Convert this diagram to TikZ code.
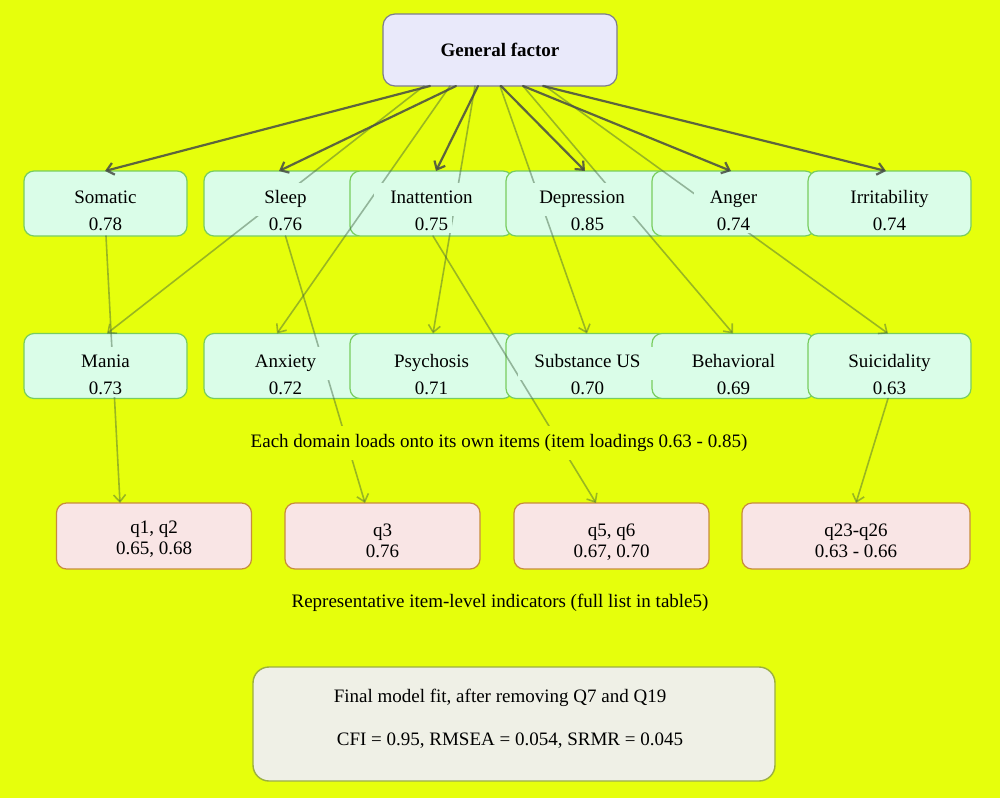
\documentclass[tikz,border=0pt]{standalone}
\usepackage{fontspec}
\setmainfont{Liberation Serif}
\usetikzlibrary{arrows.meta}
\definecolor{bg}{RGB}{230,255,12}
\definecolor{domfill}{RGB}{218,253,232}
\definecolor{domdraw}{RGB}{120,205,95}
\definecolor{genfill}{RGB}{233,233,250}
\definecolor{gendraw}{RGB}{125,125,140}
\definecolor{qfill}{RGB}{249,229,229}
\definecolor{qdraw}{RGB}{200,140,60}
\definecolor{fitfill}{RGB}{239,240,230}
\definecolor{fitdraw}{RGB}{155,175,65}
\definecolor{darkedge}{RGB}{70,75,70}
\definecolor{lightedge}{RGB}{60,95,60}
\begin{document}
\begin{tikzpicture}[x=1pt,y=-1pt,font=\fontsize{19}{22}\selectfont,
  box/.style={draw,rounded corners=10pt,inner sep=0pt,outer sep=0pt},
  dom/.style={box,fill=domfill,draw=domdraw,line width=1.2pt,minimum width=163pt,minimum height=65pt},
  qbox/.style={box,fill=qfill,draw=qdraw,line width=1.2pt,minimum width=195pt,minimum height=66pt},
  nm/.style={fill=domfill,inner xsep=16pt,inner ysep=8pt,text height=13pt,text depth=4pt},
  vl/.style={fill=domfill,inner xsep=4pt,inner ysep=2pt,text height=13pt,text depth=1pt},
  qt/.style={inner sep=0pt,text height=13pt,text depth=4pt},
  main/.style={draw=darkedge,opacity=0.85,line width=2.2pt,line cap=round,-{Straight Barb[length=7pt,width=12pt]}},
  sub/.style={draw=lightedge,opacity=0.45,line width=1.6pt,line cap=round,-{Straight Barb[length=7pt,width=12pt]}}]
\useasboundingbox (0,0) rectangle (1000,798);
\fill[bg] (0,0) rectangle (1000,798);
% domain boxes, row 1
\node[dom] (som) at (105.5,203.5) {};
\node[dom] (slp) at (285.5,203.5) {};
\node[dom] (ina) at (431.5,203.5) {};
\node[dom] (dep) at (587.5,203.5) {};
\node[dom] (ang) at (733.5,203.5) {};
\node[dom] (irr) at (889.5,203.5) {};
% row 2
\node[dom] (man) at (105.5,366) {};
\node[dom] (anx) at (285.5,366) {};
\node[dom] (psy) at (431.5,366) {};
\node[dom] (sub) at (587.5,366) {};
\node[dom] (beh) at (733.5,366) {};
\node[dom] (sui) at (889.5,366) {};
% item boxes
\node[qbox] (q12) at (154,536) {};
\node[qbox] (q3) at (382.5,536) {};
\node[qbox] (q56) at (611.5,536) {};
\node[qbox,minimum width=228pt] (q23) at (856,536) {};
% general factor
\node[box,fill=genfill,draw=gendraw,line width=1.2pt,minimum width=234pt,minimum height=72pt,rounded corners=12pt] (gen) at (500,50) {\textbf{General factor}};
% fit box
\node[box,fill=fitfill,draw=fitdraw,line width=1.4pt,minimum width=522pt,minimum height=114pt,rounded corners=16pt] (fit) at (514,724) {};
% light edges: general -> row 2
\draw[sub] ([xshift=-76pt]gen.south) -- ([xshift=1.5pt]man.north);
\draw[sub] ([xshift=-50pt]gen.south) -- ([xshift=-8.5pt]anx.north);
\draw[sub] ([xshift=-25pt]gen.south) -- ([xshift=1.5pt]psy.north);
\draw[sub] ([xshift=0pt]gen.south) -- ([xshift=-0.5pt]sub.north);
\draw[sub] ([xshift=23pt]gen.south) -- ([xshift=-0.5pt]beh.north);
\draw[sub] ([xshift=45pt]gen.south) -- ([xshift=-1.5pt]sui.north);
% light edges: domains -> items
\draw[sub] ([xshift=0.5pt]som.south) -- ([xshift=-34pt]q12.north);
\draw[sub] (slp.south) -- ([xshift=-17.5pt]q3.north);
\draw[sub] ([xshift=1.5pt]ina.south) -- ([xshift=-15.5pt]q56.north);
\draw[sub] ([xshift=-1.5pt]sui.south) -- (q23.north);
% dark edges: general -> row 1
\draw[main] ([xshift=-70pt]gen.south) -- ([xshift=-0.5pt]som.north);
\draw[main] ([xshift=-44pt]gen.south) -- ([xshift=-6.5pt]slp.north);
\draw[main] ([xshift=-22pt]gen.south) -- ([xshift=4.5pt]ina.north);
\draw[main] ([xshift=1pt]gen.south) -- ([xshift=-2.5pt]dep.north);
\draw[main] ([xshift=23pt]gen.south) -- ([xshift=-2.5pt]ang.north);
\draw[main] ([xshift=43pt]gen.south) -- ([xshift=-3.5pt]irr.north);
% labels row 1
\node[nm] (somN) at (105.5,199) {Somatic};
\node[vl] (somV) at (105.5,224) {0.78};
\node[nm] (slpN) at (285.5,199) {Sleep};
\node[vl] (slpV) at (285.5,224) {0.76};
\node[nm] (inaN) at (431.5,199) {Inattention};
\node[vl] (inaV) at (431.5,224) {0.75};
\node[nm] (depN) at (582,199) {Depression};
\node[vl] (depV) at (587.5,224) {0.85};
\node[nm] (angN) at (733.5,199) {Anger};
\node[vl] (angV) at (733.5,224) {0.74};
\node[nm] (irrN) at (889.5,199) {Irritability};
\node[vl] (irrV) at (889.5,224) {0.74};
% labels row 2
\node[nm] (manN) at (105.5,363) {Mania};
\node[vl] (manV) at (105.5,388) {0.73};
\node[nm] (anxN) at (285.5,363) {Anxiety};
\node[vl] (anxV) at (285.5,388) {0.72};
\node[nm] (psyN) at (431.5,363) {Psychosis};
\node[vl] (psyV) at (431.5,388) {0.71};
\node[nm] (subN) at (587.5,363) {Substance US};
\node[vl] (subV) at (587.5,388) {0.70};
\node[nm] (behN) at (733.5,363) {Behavioral};
\node[vl] (behV) at (733.5,388) {0.69};
\node[nm] (suiN) at (889.5,363) {Suicidality};
\node[vl] (suiV) at (889.5,388) {0.63};
% item labels
\node[qt] (q12a) at (154,529) {q1, q2};
\node[qt] (q12b) at (154,550) {0.65, 0.68};
\node[qt] (q3a) at (382.5,532) {q3};
\node[qt] (q3b) at (382.5,553) {0.76};
\node[qt] (q56a) at (611.5,532) {q5, q6};
\node[qt] (q56b) at (611.5,553) {0.67, 0.70};
\node[qt] (q23a) at (856,532) {q23-q26};
\node[qt] (q23b) at (856,553) {0.63 - 0.66};
% free captions
\node[fill=bg,inner xsep=6pt,inner ysep=8pt] (cap1) at (499,443) {Each domain loads onto its own items (item loadings 0.63 - 0.85)};
\node[inner sep=2pt] (cap2) at (500,603) {Representative item-level indicators (full list in table5)};
% fit text
\node[inner sep=0pt] (fit1) at (500,698) {Final model fit, after removing Q7 and Q19};
\node[inner sep=0pt] (fit2) at (510,741) {CFI = 0.95, RMSEA = 0.054, SRMR = 0.045};
\end{tikzpicture}
\end{document}
